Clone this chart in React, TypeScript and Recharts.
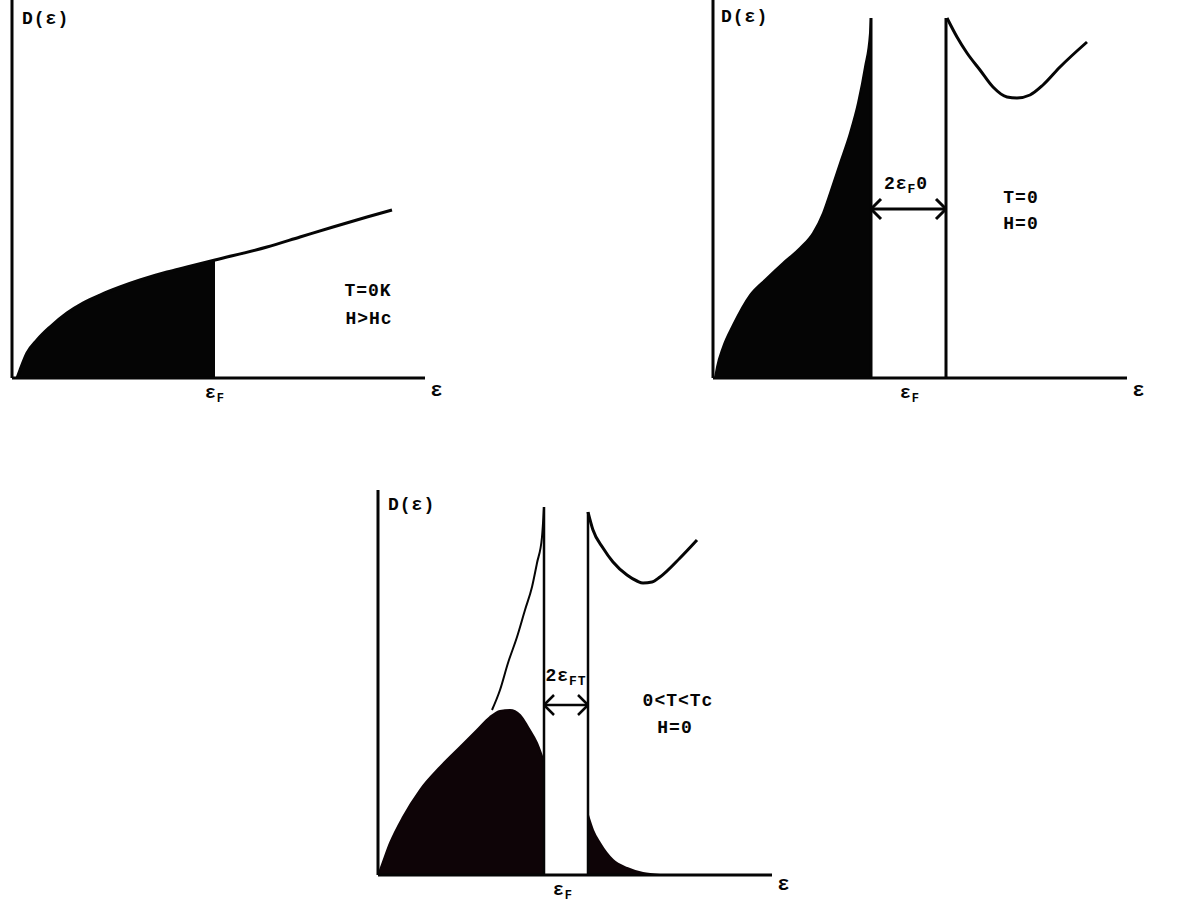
import React from 'react';
import { ComposedChart, Area, Line, XAxis, YAxis, ReferenceLine, ReferenceDot, Label } from 'recharts';

// ---------- Panel 1: normal state, T=0K, H>Hc ----------
const normalEnergy = [5, 8, 15, 25, 38, 55, 71, 88, 108, 128, 155, 175, 203, 255, 288, 321, 355, 380];
const normalDos = [0, 8, 25, 38, 51, 65, 75, 83, 91, 98, 106, 111, 118, 131, 141, 151, 161, 168];
const normalFermi = 203;

// ---------- Panel 2: superconductor, T=0, H=0 ----------
const sc0FilledEnergy = [2, 4, 10, 20, 37, 54, 70, 87, 100, 110, 117, 127, 137, 145, 152, 157, 158];
const sc0FilledDos = [0, 11, 31, 53, 83, 100, 115, 130, 145, 165, 185, 215, 245, 275, 311, 345, 360];
const sc0UpperEnergy = [234, 244, 254, 267, 280, 294, 304, 317, 330, 347, 374];
const sc0UpperDos = [360, 341, 325, 308, 291, 281, 280, 283, 293, 311, 336];
const sc0GapLow = 158;
const sc0GapHigh = 233;
const sc0Fermi = 197;
const sc0ArrowLevel = 169;

// ---------- Panel 3: superconductor, 0<T<Tc, H=0 ----------
const scTFilledEnergy = [0, 2, 12, 25, 42, 62, 82, 99, 112, 122, 132, 142, 150, 159, 166];
const scTFilledDos = [0, 5, 32, 58, 85, 108, 128, 145, 158, 164, 165, 160, 148, 132, 113];
const scTLowerEnergy = [114, 122, 130, 139, 147, 154, 159, 164, 166];
const scTLowerDos = [165, 185, 212, 238, 265, 288, 312, 338, 368];
const scTUpperEnergy = [210, 215, 225, 235, 249, 259, 265, 274, 282, 302, 319];
const scTUpperDos = [363, 345, 327, 313, 300, 294, 292, 293, 298, 317, 335];
const scTTailEnergy = [210, 215, 222, 235, 249, 265, 282];
const scTTailDos = [60, 45, 32, 15, 7, 2, 0];
const scTGapLow = 166;
const scTGapHigh = 210;
const scTFermi = 185;
const scTArrowLevel = 170;

const FONT = '"Liberation Mono", "DejaVu Sans Mono", monospace';
const INK = '#050505';

type Series = Record<string, [number[], number[]]>;
function buildRows(series: Series) {
  const map = new Map<number, any>();
  Object.entries(series).forEach(([key, [xs, ys]]) => {
    xs.forEach((x, i) => {
      const row = map.get(x) ?? { e: x };
      row[key] = ys[i];
      map.set(x, row);
    });
  });
  return Array.from(map.values()).sort((a, b) => a.e - b.e);
}

const rows1 = buildRows({
  dos: [normalEnergy, normalDos],
  occ: [normalEnergy.filter((e) => e <= normalFermi), normalDos.filter((_, i) => normalEnergy[i] <= normalFermi)],
});
const rows2 = buildRows({
  occ: [sc0FilledEnergy, sc0FilledDos],
  up: [sc0UpperEnergy, sc0UpperDos],
});
const rows3 = buildRows({
  occ: [scTFilledEnergy, scTFilledDos],
  low: [scTLowerEnergy, scTLowerDos],
  up: [scTUpperEnergy, scTUpperDos],
  tail: [scTTailEnergy, scTTailDos],
});

const textStyle = { fontFamily: FONT, fontWeight: 700, fontSize: 18, letterSpacing: 1, fill: INK } as const;

const FermiTick = (props: any) => {
  const { x, y } = props;
  return (
    <text x={x} y={y + 12} textAnchor="middle" style={textStyle}>
      ε<tspan dy={4} fontSize={12}>F</tspan>
    </text>
  );
};

const axisEnd = (dy: number) => (props: any) => {
  const vb = props.viewBox || {};
  return (
    <text x={vb.x + vb.width + 12} y={vb.y + dy} textAnchor="middle" style={{ ...textStyle, fontSize: 20 }}>
      ε
    </text>
  );
};

const dosLabel = (dx: number, dy: number) => (props: any) => {
  const vb = props.viewBox || {};
  return (
    <text x={vb.x + vb.width + dx} y={vb.y + dy} style={textStyle}>
      D(ε)
    </text>
  );
};

const plain = (txt: string) => (props: any) => {
  const vb = props.viewBox || {};
  return (
    <text x={vb.x + vb.width / 2} y={vb.y + vb.height / 2} dy={6} textAnchor="middle" style={textStyle}>
      {txt}
    </text>
  );
};

const gapLabel = (sub: string) => (props: any) => {
  const vb = props.viewBox || {};
  return (
    <text x={vb.x + vb.width / 2} y={vb.y + vb.height / 2} dy={4} textAnchor="middle" style={textStyle}>
      2ε<tspan dy={4} fontSize={13}>{sub}</tspan>
      {sub === 'F' ? <tspan dy={-4}>0</tspan> : null}
    </text>
  );
};

const Arrow = (lo: number, hi: number, level: number, head: number, w: number) => [
  <ReferenceLine key="a0" segment={[{ x: lo, y: level }, { x: hi, y: level }]} stroke={INK} strokeWidth={w} ifOverflow="visible" />,
  <ReferenceLine key="a1" segment={[{ x: lo, y: level }, { x: lo + head, y: level + head }]} stroke={INK} strokeWidth={w} ifOverflow="visible" />,
  <ReferenceLine key="a2" segment={[{ x: lo, y: level }, { x: lo + head, y: level - head }]} stroke={INK} strokeWidth={w} ifOverflow="visible" />,
  <ReferenceLine key="a3" segment={[{ x: hi, y: level }, { x: hi - head, y: level + head }]} stroke={INK} strokeWidth={w} ifOverflow="visible" />,
  <ReferenceLine key="a4" segment={[{ x: hi, y: level }, { x: hi - head, y: level - head }]} stroke={INK} strokeWidth={w} ifOverflow="visible" />,
];

const Note = (x: number, y: number, content: any, key: string) => (
  <ReferenceDot key={key} x={x} y={y} r={1} fill="none" stroke="none" ifOverflow="visible" label={content} />
);

const axisLine = { stroke: INK, strokeWidth: 3 };

function Panel1() {
  return (
    <ComposedChart width={460} height={420} data={rows1} margin={{ top: 0, right: 35, bottom: 0, left: 0 }}>
      <XAxis type="number" dataKey="e" domain={[0, 413]} allowDataOverflow ticks={[normalFermi]} interval={0}
        tickLine={false} axisLine={axisLine} height={42} tick={<FermiTick />}>
        <Label content={axisEnd(18)} />
      </XAxis>
      <YAxis type="number" domain={[0, 378]} allowDataOverflow width={12} tick={false} tickLine={false} axisLine={axisLine}>
        <Label content={dosLabel(10, 24)} />
      </YAxis>
      <Area type="monotone" dataKey="occ" connectNulls fill={INK} fillOpacity={1} stroke={INK} strokeWidth={1} isAnimationActive={false} dot={false} activeDot={false} />
      <Line type="monotone" dataKey="dos" connectNulls stroke={INK} strokeWidth={3} dot={false} activeDot={false} isAnimationActive={false} />
      {Note(356, 88, plain('T=0K'), 'n1')}
      {Note(357, 60, plain('H>Hc'), 'n2')}
    </ComposedChart>
  );
}

function Panel2() {
  return (
    <ComposedChart width={484} height={420} data={rows2} margin={{ top: 0, right: 57, bottom: 0, left: 0 }}>
      <XAxis type="number" dataKey="e" domain={[0, 414]} allowDataOverflow ticks={[sc0Fermi]} interval={0}
        tickLine={false} axisLine={axisLine} height={42} tick={<FermiTick />}>
        <Label content={axisEnd(18)} />
      </XAxis>
      <YAxis type="number" domain={[0, 378]} allowDataOverflow width={13} tick={false} tickLine={false} axisLine={axisLine}>
        <Label content={dosLabel(8, 22)} />
      </YAxis>
      <Area type="monotone" dataKey="occ" connectNulls fill={INK} fillOpacity={1} stroke={INK} strokeWidth={2} isAnimationActive={false} dot={false} activeDot={false} />
      <Line type="monotone" dataKey="up" connectNulls stroke={INK} strokeWidth={3} dot={false} activeDot={false} isAnimationActive={false} />
      <ReferenceLine segment={[{ x: sc0GapLow, y: 0 }, { x: sc0GapLow, y: 360 }]} stroke={INK} strokeWidth={3} />
      <ReferenceLine segment={[{ x: sc0GapHigh, y: 0 }, { x: sc0GapHigh, y: 360 }]} stroke={INK} strokeWidth={3} />
      {Arrow(sc0GapLow, sc0GapHigh, sc0ArrowLevel, 10, 3)}
      {Note(193, 193, gapLabel('F'), 'g')}
      {Note(308, 181, plain('T=0'), 'n1')}
      {Note(308, 155, plain('H=0'), 'n2')}
    </ComposedChart>
  );
}

function Panel3() {
  return (
    <ComposedChart width={440} height={447} data={rows3} margin={{ top: 30, right: 28, bottom: 0, left: 0 }}>
      <XAxis type="number" dataKey="e" domain={[0, 394]} allowDataOverflow ticks={[scTFermi]} interval={0}
        tickLine={false} axisLine={axisLine} height={32} tick={<FermiTick />}>
        <Label content={axisEnd(15)} />
      </XAxis>
      <YAxis type="number" domain={[0, 385]} allowDataOverflow width={18} tick={false} tickLine={false} axisLine={axisLine}>
        <Label content={dosLabel(10, 20)} />
      </YAxis>
      <Area type="monotone" dataKey="occ" connectNulls fill="#0e0407" fillOpacity={1} stroke="#0e0407" strokeWidth={2} isAnimationActive={false} dot={false} activeDot={false} />
      <Area type="monotone" dataKey="tail" connectNulls fill="#0e0407" fillOpacity={1} stroke="#0e0407" strokeWidth={2} isAnimationActive={false} dot={false} activeDot={false} />
      <Line type="monotone" dataKey="low" connectNulls stroke={INK} strokeWidth={2} dot={false} activeDot={false} isAnimationActive={false} />
      <Line type="monotone" dataKey="up" connectNulls stroke={INK} strokeWidth={3} dot={false} activeDot={false} isAnimationActive={false} />
      <ReferenceLine segment={[{ x: scTGapLow, y: 0 }, { x: scTGapLow, y: 368 }]} stroke={INK} strokeWidth={2.5} />
      <ReferenceLine segment={[{ x: scTGapHigh, y: 0 }, { x: scTGapHigh, y: 363 }]} stroke={INK} strokeWidth={2.5} />
      {Arrow(scTGapLow, scTGapHigh, scTArrowLevel, 10, 2.5)}
      {Note(188, 198, gapLabel('FT'), 'g')}
      {Note(300, 175, plain('0<T<Tc'), 'n1')}
      {Note(297, 148, plain('H=0'), 'n2')}
    </ComposedChart>
  );
}

export default function App() {
  return (
    <div style={{ position: 'absolute', left: 0, top: 0, width: 1184, height: 907, background: '#fff', overflow: 'hidden' }}>
      <div style={{ position: 'absolute', left: 0, top: 0 }}>
        <Panel1 />
      </div>
      <div style={{ position: 'absolute', left: 700, top: 0 }}>
        <Panel2 />
      </div>
      <div style={{ position: 'absolute', left: 360, top: 460 }}>
        <Panel3 />
      </div>
    </div>
  );
}
